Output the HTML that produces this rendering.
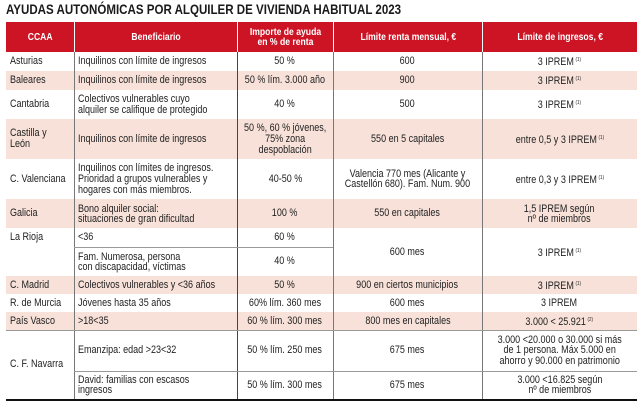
<!DOCTYPE html>
<html><head><meta charset="utf-8"><style>
*{margin:0;padding:0;box-sizing:border-box}
body{width:642px;height:406px;background:#fff;position:relative;overflow:hidden;font-family:"Liberation Sans",sans-serif;color:#222}
.t{position:absolute;left:6px;top:1px;font-weight:bold;font-size:14px;color:#1a1a1a;white-space:nowrap;transform:scaleX(.825);transform-origin:left center}
.c{position:absolute;display:flex;align-items:center;justify-content:center;text-align:center;font-size:11px;line-height:11px;padding:0}
.c>span{display:inline-block;white-space:nowrap;transform:scaleX(.82);transform-origin:center center}
.l{justify-content:flex-start;text-align:left;padding-left:4px}
.l>span{transform-origin:left center}
.h{background:#cc1424;color:#fff;font-weight:bold;font-size:10.5px;line-height:10.5px}
.p{position:absolute;left:6px;width:631px;background:#f7e1d9}
.v{position:absolute;width:1px;background:#777}
.hl{position:absolute;height:1px;background:#999}
sup{font-size:5.5px;vertical-align:4px;margin-left:2px}
</style></head><body>
<div class="t">AYUDAS AUTONÓMICAS POR ALQUILER DE VIVIENDA HABITUAL 2023</div>
<div class="p" style="top:71px;height:19px"></div>
<div class="p" style="top:119px;height:40px"></div>
<div class="p" style="top:199px;height:29px"></div>
<div class="p" style="top:276px;height:18px"></div>
<div class="p" style="top:312px;height:18px"></div>
<!-- header -->
<div class="c h" style="left:6px;top:22px;width:68px;height:30px"><span>CCAA</span></div>
<div class="c h" style="left:75px;top:22px;width:162px;height:30px"><span>Beneficiario</span></div>
<div class="c h" style="left:238px;top:22px;width:95px;height:30px"><span>Importe de ayuda<br>en % de renta</span></div>
<div class="c h" style="left:334px;top:22px;width:148px;height:30px"><span>Límite renta mensual, €</span></div>
<div class="c h" style="left:483px;top:22px;width:154px;height:30px"><span>Límite de ingresos, €</span></div>
<!-- vertical lines -->
<div class="v" style="left:74px;top:52px;height:347px"></div>
<div class="v" style="left:237px;top:52px;height:347px;background:#444"></div>
<div class="v" style="left:333px;top:52px;height:347px"></div>
<div class="v" style="left:482px;top:52px;height:347px"></div>
<div class="hl" style="left:74px;top:247px;width:259px"></div>
<div class="hl" style="left:6px;top:330px;width:631px"></div>
<div class="hl" style="left:74px;top:371px;width:563px"></div>
<div class="hl" style="left:6px;top:399px;width:631px;height:2px;background:#111"></div>
<!-- rows -->
<div class="c l" style="left:6px;top:52px;width:68px;height:19px"><span>Asturias</span></div>
<div class="c l" style="left:74px;top:52px;width:163px;height:19px"><span>Inquilinos con límite de ingresos</span></div>
<div class="c" style="left:237px;top:52px;width:96px;height:19px"><span>50 %</span></div>
<div class="c" style="left:333px;top:52px;width:149px;height:19px"><span>600</span></div>
<div class="c" style="left:482px;top:52px;width:155px;height:19px"><span>3 IPREM<sup>(1)</sup></span></div>

<div class="c l" style="left:6px;top:71px;width:68px;height:19px"><span>Baleares</span></div>
<div class="c l" style="left:74px;top:71px;width:163px;height:19px"><span>Inquilinos con límite de ingresos</span></div>
<div class="c" style="left:237px;top:71px;width:96px;height:19px"><span>50 % lím. 3.000 año</span></div>
<div class="c" style="left:333px;top:71px;width:149px;height:19px"><span>900</span></div>
<div class="c" style="left:482px;top:71px;width:155px;height:19px"><span>3 IPREM<sup>(1)</sup></span></div>

<div class="c l" style="left:6px;top:90px;width:68px;height:29px"><span>Cantabria</span></div>
<div class="c l" style="left:74px;top:90px;width:163px;height:29px"><span>Colectivos vulnerables cuyo<br>alquiler se califique de protegido</span></div>
<div class="c" style="left:237px;top:90px;width:96px;height:29px"><span>40 %</span></div>
<div class="c" style="left:333px;top:90px;width:149px;height:29px"><span>500</span></div>
<div class="c" style="left:482px;top:90px;width:155px;height:29px"><span>3 IPREM<sup>(1)</sup></span></div>

<div class="c l" style="left:6px;top:119px;width:68px;height:40px"><span>Castilla y<br>León</span></div>
<div class="c l" style="left:74px;top:119px;width:163px;height:40px"><span>Inquilinos con límite de ingresos</span></div>
<div class="c" style="left:237px;top:119px;width:96px;height:40px"><span>50 %, 60 % jóvenes,<br>75% zona<br>despoblación</span></div>
<div class="c" style="left:333px;top:119px;width:149px;height:40px"><span>550 en 5 capitales</span></div>
<div class="c" style="left:482px;top:119px;width:155px;height:40px"><span>entre 0,5 y 3 IPREM<sup>(1)</sup></span></div>

<div class="c l" style="left:6px;top:159px;width:68px;height:40px"><span>C. Valenciana</span></div>
<div class="c l" style="left:74px;top:159px;width:163px;height:40px"><span>Inquilinos con límites de ingresos.<br>Prioridad a grupos vulnerables y<br>hogares con más miembros.</span></div>
<div class="c" style="left:237px;top:159px;width:96px;height:40px"><span>40-50 %</span></div>
<div class="c" style="left:333px;top:159px;width:149px;height:40px;line-height:10px"><span>Valencia 770 mes (Alicante y<br>Castellón 680). Fam. Num. 900</span></div>
<div class="c" style="left:482px;top:159px;width:155px;height:40px"><span>entre 0,3 y 3 IPREM<sup>(1)</sup></span></div>

<div class="c l" style="left:6px;top:199px;width:68px;height:29px"><span>Galicia</span></div>
<div class="c l" style="left:74px;top:199px;width:163px;height:29px;line-height:10px"><span>Bono alquiler social:<br>situaciones de gran dificultad</span></div>
<div class="c" style="left:237px;top:199px;width:96px;height:29px"><span>100 %</span></div>
<div class="c" style="left:333px;top:199px;width:149px;height:29px"><span>550 en capitales</span></div>
<div class="c" style="left:482px;top:199px;width:155px;height:29px;line-height:10px"><span>1,5 IPREM según<br>nº de miembros</span></div>

<div class="c l" style="left:6px;top:228px;width:68px;height:19px"><span>La Rioja</span></div>
<div class="c l" style="left:74px;top:228px;width:163px;height:19px"><span>&lt;36</span></div>
<div class="c" style="left:237px;top:228px;width:96px;height:19px"><span>60 %</span></div>
<div class="c l" style="left:74px;top:247px;width:163px;height:29px;line-height:10px"><span>Fam. Numerosa, persona<br>con discapacidad, víctimas</span></div>
<div class="c" style="left:237px;top:247px;width:96px;height:29px"><span>40 %</span></div>
<div class="c" style="left:333px;top:228px;width:149px;height:48px"><span>600 mes</span></div>
<div class="c" style="left:482px;top:228px;width:155px;height:48px"><span>3 IPREM<sup>(1)</sup></span></div>

<div class="c l" style="left:6px;top:276px;width:68px;height:18px"><span>C. Madrid</span></div>
<div class="c l" style="left:74px;top:276px;width:163px;height:18px"><span>Colectivos vulnerables y &lt;36 años</span></div>
<div class="c" style="left:237px;top:276px;width:96px;height:18px"><span>50 %</span></div>
<div class="c" style="left:333px;top:276px;width:149px;height:18px"><span>900 en ciertos municipios</span></div>
<div class="c" style="left:482px;top:276px;width:155px;height:18px"><span>3 IPREM<sup>(1)</sup></span></div>

<div class="c l" style="left:6px;top:294px;width:68px;height:18px"><span>R. de Murcia</span></div>
<div class="c l" style="left:74px;top:294px;width:163px;height:18px"><span>Jóvenes hasta 35 años</span></div>
<div class="c" style="left:237px;top:294px;width:96px;height:18px"><span>60% lím. 360 mes</span></div>
<div class="c" style="left:333px;top:294px;width:149px;height:18px"><span>600 mes</span></div>
<div class="c" style="left:482px;top:294px;width:155px;height:18px"><span>3 IPREM</span></div>

<div class="c l" style="left:6px;top:312px;width:68px;height:18px"><span>País Vasco</span></div>
<div class="c l" style="left:74px;top:312px;width:163px;height:18px"><span>&gt;18&lt;35</span></div>
<div class="c" style="left:237px;top:312px;width:96px;height:18px"><span>60 % lím. 300 mes</span></div>
<div class="c" style="left:333px;top:312px;width:149px;height:18px"><span>800 mes en capitales</span></div>
<div class="c" style="left:482px;top:312px;width:155px;height:18px"><span>3.000 &lt; 25.921<sup>(2)</sup></span></div>

<div class="c l" style="left:6px;top:330px;width:68px;height:69px"><span>C. F. Navarra</span></div>
<div class="c l" style="left:74px;top:330px;width:163px;height:41px"><span>Emanzipa: edad &gt;23&lt;32</span></div>
<div class="c" style="left:237px;top:330px;width:96px;height:41px"><span>50 % lím. 250 mes</span></div>
<div class="c" style="left:333px;top:330px;width:149px;height:41px"><span>675 mes</span></div>
<div class="c" style="left:482px;top:330px;width:155px;height:41px;line-height:10.5px"><span>3.000 &lt;20.000 o 30.000 si más<br>de 1 persona. Máx 5.000 en<br>ahorro y 90.000 en patrimonio</span></div>
<div class="c l" style="left:74px;top:371px;width:163px;height:28px;line-height:10px"><span>David: familias con escasos<br>ingresos</span></div>
<div class="c" style="left:237px;top:371px;width:96px;height:28px"><span>50 % lím. 300 mes</span></div>
<div class="c" style="left:333px;top:371px;width:149px;height:28px"><span>675 mes</span></div>
<div class="c" style="left:482px;top:371px;width:155px;height:28px;line-height:10px"><span>3.000 &lt;16.825 según<br>nº de miembros</span></div>
</body></html>
